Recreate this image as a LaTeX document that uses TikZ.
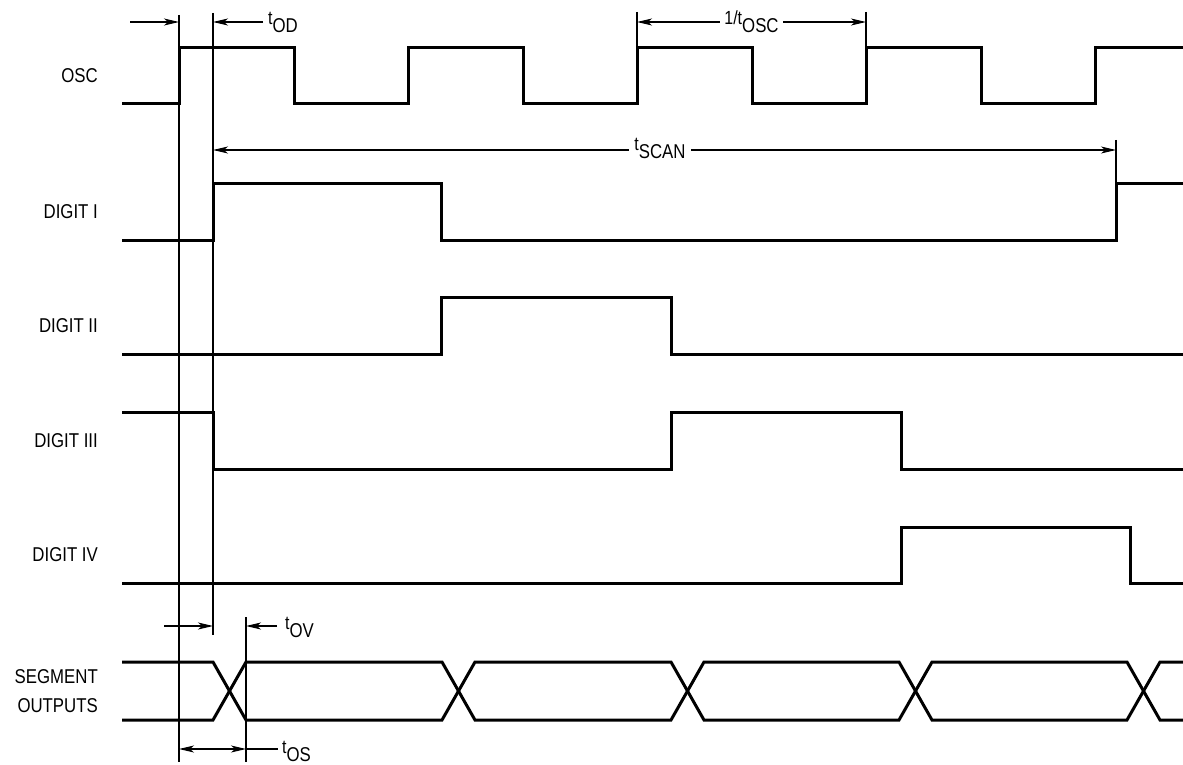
\documentclass[tikz,border=0pt]{standalone}
\usepackage{fontspec}
\setmainfont{Liberation Sans}[FakeStretch=0.84]
\usetikzlibrary{arrows.meta}

\newcommand{\tsub}[2]{{\fontsize{19}{19}\selectfont\raisebox{8pt}{#1}}#2}

\begin{document}
\begin{tikzpicture}[x=1pt,y=-1pt,>={Stealth[length=15pt,width=7pt,inset=4pt]},
      sig/.style={line width=3pt,line join=miter},
      guide/.style={line width=1.3pt},
      dim/.style={guide,->},
      lab/.style={anchor=east,align=right,inner sep=0pt,
        font=\fontsize{20}{29}\selectfont},
      tlab/.style={anchor=base west,inner sep=0pt,
        font=\fontsize{20}{21}\selectfont}]
      \useasboundingbox (0,0) rectangle (1183,765);

      % signal names
      \node[lab] (osc) at (98,76) {OSC};
      \node[lab] (dig1) at (98,212) {DIGIT I};
      \node[lab] (dig2) at (98,326) {DIGIT II};
      \node[lab] (dig3) at (98,441) {DIGIT III};
      \node[lab] (dig4) at (98,555) {DIGIT IV};
      \node[lab] (seg) at (98,691) {SEGMENT\\OUTPUTS};

      % waveforms
      \draw[sig] (122,104) -- (179,104) -- (179,48) -- (294,48) -- (294,104)
        -- (408,104) -- (408,48) -- (523,48) -- (523,104) -- (637,104)
        -- (637,48) -- (752,48) -- (752,104) -- (866,104) -- (866,48)
        -- (981,48) -- (981,104) -- (1095,104) -- (1095,48) -- (1183,48);
      \draw[sig] (122,240) -- (213,240) -- (213,183) -- (441,183) -- (441,240)
        -- (1116,240) -- (1116,183) -- (1183,183);
      \draw[sig] (122,354) -- (441,354) -- (441,297) -- (671,297) -- (671,354)
        -- (1183,354);
      \draw[sig] (122,412) -- (213,412) -- (213,469) -- (671,469) -- (671,412)
        -- (901,412) -- (901,469) -- (1183,469);
      \draw[sig] (122,583) -- (901,583) -- (901,527) -- (1130,527) -- (1130,583)
        -- (1183,583);
      \draw[sig] (122,662) -- (213,662) -- (246,720) -- (442,720) -- (475,662)
        -- (671,662) -- (704,720) -- (899,720) -- (932,662) -- (1127,662)
        -- (1160,720) -- (1183,720);
      \draw[sig] (122,720) -- (213,720) -- (246,662) -- (442,662) -- (475,720)
        -- (671,720) -- (704,662) -- (899,662) -- (932,720) -- (1127,720)
        -- (1160,662) -- (1183,662);

      % reference lines
      \coordinate (e0top) at (179,15);
      \coordinate (e0bot) at (179,762);
      \coordinate (e1top) at (213,13);
      \coordinate (e1bot) at (213,635);
      \coordinate (e2top) at (246,617);
      \coordinate (e2bot) at (246,762);
      \draw[guide] (e0top) -- (e0bot);
      \draw[guide] (e1top) -- (e1bot);
      \draw[guide] (e2top) -- (e2bot);
      \draw[guide] (637,12) -- (637,48);
      \draw[guide] (866,12) -- (866,48);
      \draw[guide] (1116,140) -- (1116,183);

      % t_OD
      \coordinate (odl) at (130,22);
      \coordinate (odr) at (263,22);
      \draw[dim] (odl) -- (179,22);
      \draw[dim] (odr) -- (213,22);
      \node[tlab] (tod) at (268,33) {\tsub{t}{OD}};

      % 1/t_OSC
      \coordinate (osca) at (637,22);
      \coordinate (oscb) at (866,22);
      \draw[guide,<->] (osca) -- (oscb);
      \node[tlab,anchor=base,fill=white,inner xsep=4pt,inner ysep=1pt]
        (tosc) at (751.5,33) {\tsub{1/t}{OSC}};

      % t_SCAN
      \coordinate (scana) at (213,150);
      \coordinate (scanb) at (1116,150);
      \draw[guide,<->] (scana) -- (scanb);
      \node[tlab,anchor=base,fill=white,inner xsep=5pt,inner ysep=1pt]
        (tscan) at (660,158) {\tsub{t}{SCAN}};

      % t_OV
      \coordinate (ovl) at (164,626);
      \coordinate (ovr) at (277,626);
      \draw[dim] (ovl) -- (213,626);
      \draw[dim] (ovr) -- (246,626);
      \node[tlab] (tov) at (285,637) {\tsub{t}{OV}};

      % t_OS
      \coordinate (osl) at (179,749);
      \coordinate (osm) at (246,749);
      \coordinate (osr) at (278,749);
      \draw[guide,<->] (osl) -- (osm);
      \draw[guide] (osm) -- (osr);
      \node[tlab] (tos) at (282,761) {\tsub{t}{OS}};
\end{tikzpicture}
\end{document}
